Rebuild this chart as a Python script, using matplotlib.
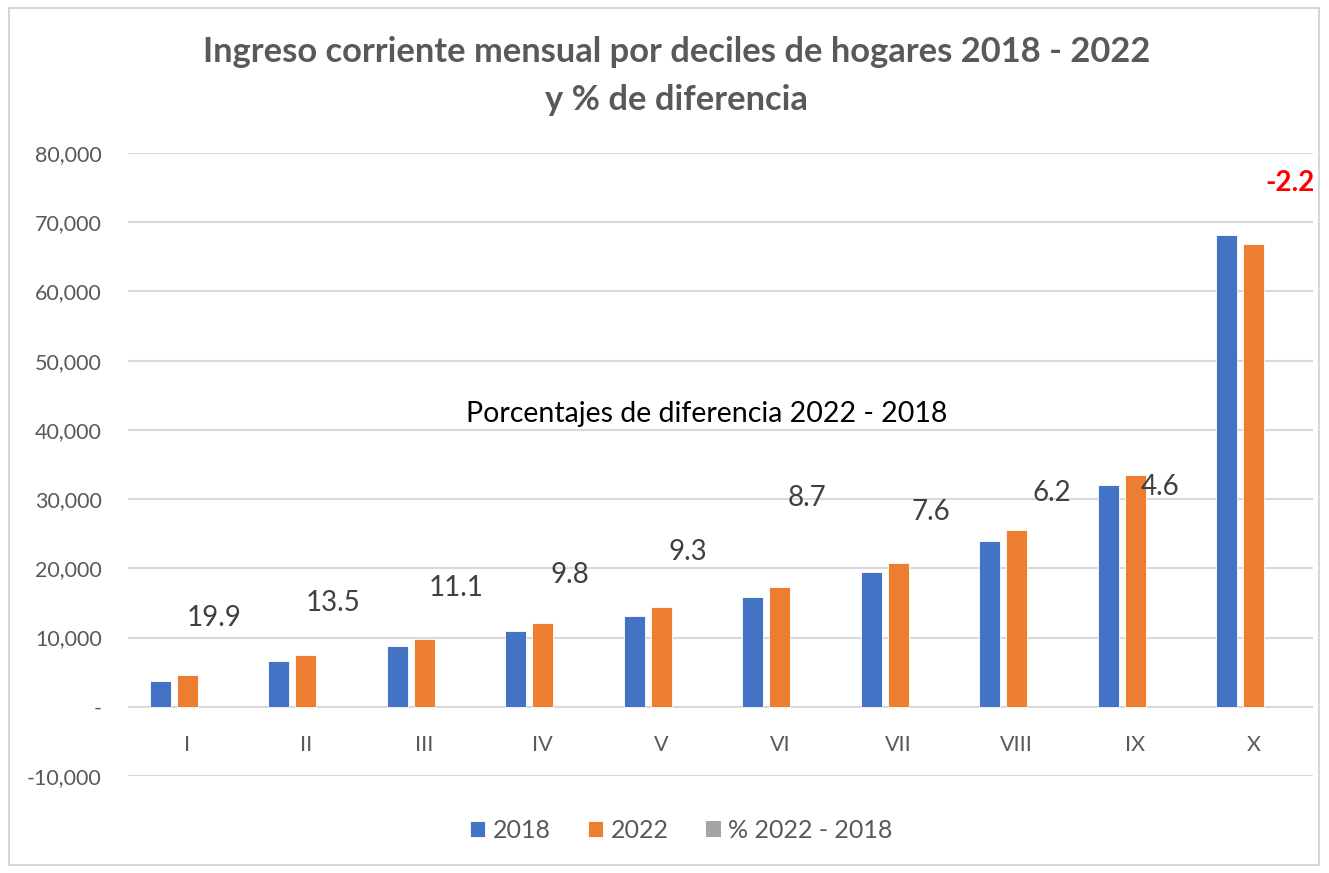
import numpy as np
import matplotlib.pyplot as plt
from matplotlib.patches import Rectangle
from matplotlib.ticker import FuncFormatter

plt.rcParams['font.family'] = ['Lato', 'DejaVu Sans']

# Data
deciles = ["I", "II", "III", "IV", "V", "VI", "VII", "VIII", "IX", "X"]
ingreso_2018 = [3760, 6680, 8830, 11000, 13150, 15900, 19500, 24000, 32000, 68200]
ingreso_2022 = [4520, 7480, 9830, 12100, 14420, 17300, 20800, 25500, 33500, 66800]
pct_diff = [19.9, 13.5, 11.1, 9.8, 9.3, 8.7, 7.6, 6.2, 4.6, -2.2]

# where the % labels were dragged to in the original (axis units)
label_y = [12850, 15000, 17200, 19100, 22400, 30100, 28100, 30900, 31800, 75600]
label_dx = [0, 0, 0.04, 0, 0, 0, 0.05, 0.07, -0.02, 0.08]

blue = "#4472C4"
orange = "#ED7D31"
grey = "#A5A5A5"
txt = "#595959"

fig = plt.figure(figsize=(13.29, 8.73), dpi=100)
ax = fig.add_axes([128 / 1329, 97 / 873, (1313 - 128) / 1329, (776 - 153) / 873])

x = np.arange(len(deciles))
w = 0.18
step = 0.228
ax.bar(x - step, ingreso_2018, w, color=blue, edgecolor="white", linewidth=0.6, label="2018", zorder=3)
ax.bar(x, ingreso_2022, w, color=orange, edgecolor="white", linewidth=0.6, label="2022", zorder=3)
ax.bar(x + step, pct_diff, w, color=grey, label="% 2022 - 2018", zorder=3)

for i, v in enumerate(pct_diff):
    col = "red" if v < 0 else "#404040"
    wt = "bold" if v < 0 else "normal"
    ax.text(x[i] + step + label_dx[i], label_y[i], f"{v:.1f}", ha="center", va="center",
            fontsize=20, color=col, fontweight=wt, zorder=4)

ax.text(4.386, 42300, "Porcentajes de diferencia 2022 - 2018", ha="center", va="center",
        fontsize=20.5, color="black")

ax.set_xlim(-0.5, 9.5)
ax.set_ylim(-10000, 80000)
ax.set_yticks(range(-10000, 80001, 10000))
ax.yaxis.set_major_formatter(FuncFormatter(lambda v, p: "-" if v == 0 else f"{v:,.0f}"))
ax.set_xticks(x)
ax.set_xticklabels(deciles)
ax.spines["bottom"].set_position(("data", 0))
ax.tick_params(axis="y", length=0, pad=19, labelsize=15.5, labelcolor=txt)
ax.tick_params(axis="x", length=0, pad=20, labelsize=15.5, labelcolor=txt)
ax.grid(axis="y", color="#D9D9D9", linewidth=1.5, zorder=0)
for s in ax.spines.values():
    s.set_visible(False)

fig.text(0.509, 0.913, "Ingreso corriente mensual por deciles de hogares 2018 - 2022\ny % de diferencia",
         ha="center", va="center", fontsize=24.8, fontweight="bold", color=txt, linespacing=1.6)

leg = ax.legend(loc="center", bbox_to_anchor=(0.467, -0.087), ncol=3, frameon=False,
                fontsize=18, handlelength=0.6, handleheight=0.6, handletextpad=0.3,
                columnspacing=1.5)
for t in leg.get_texts():
    t.set_color(txt)

fig.patches.append(Rectangle((9 / 1329, 8 / 873), 1310 / 1329, 857 / 873, transform=fig.transFigure,
                             fill=False, edgecolor="#D0D0D0", linewidth=1.2))

fig.savefig("out.png", dpi=100)
